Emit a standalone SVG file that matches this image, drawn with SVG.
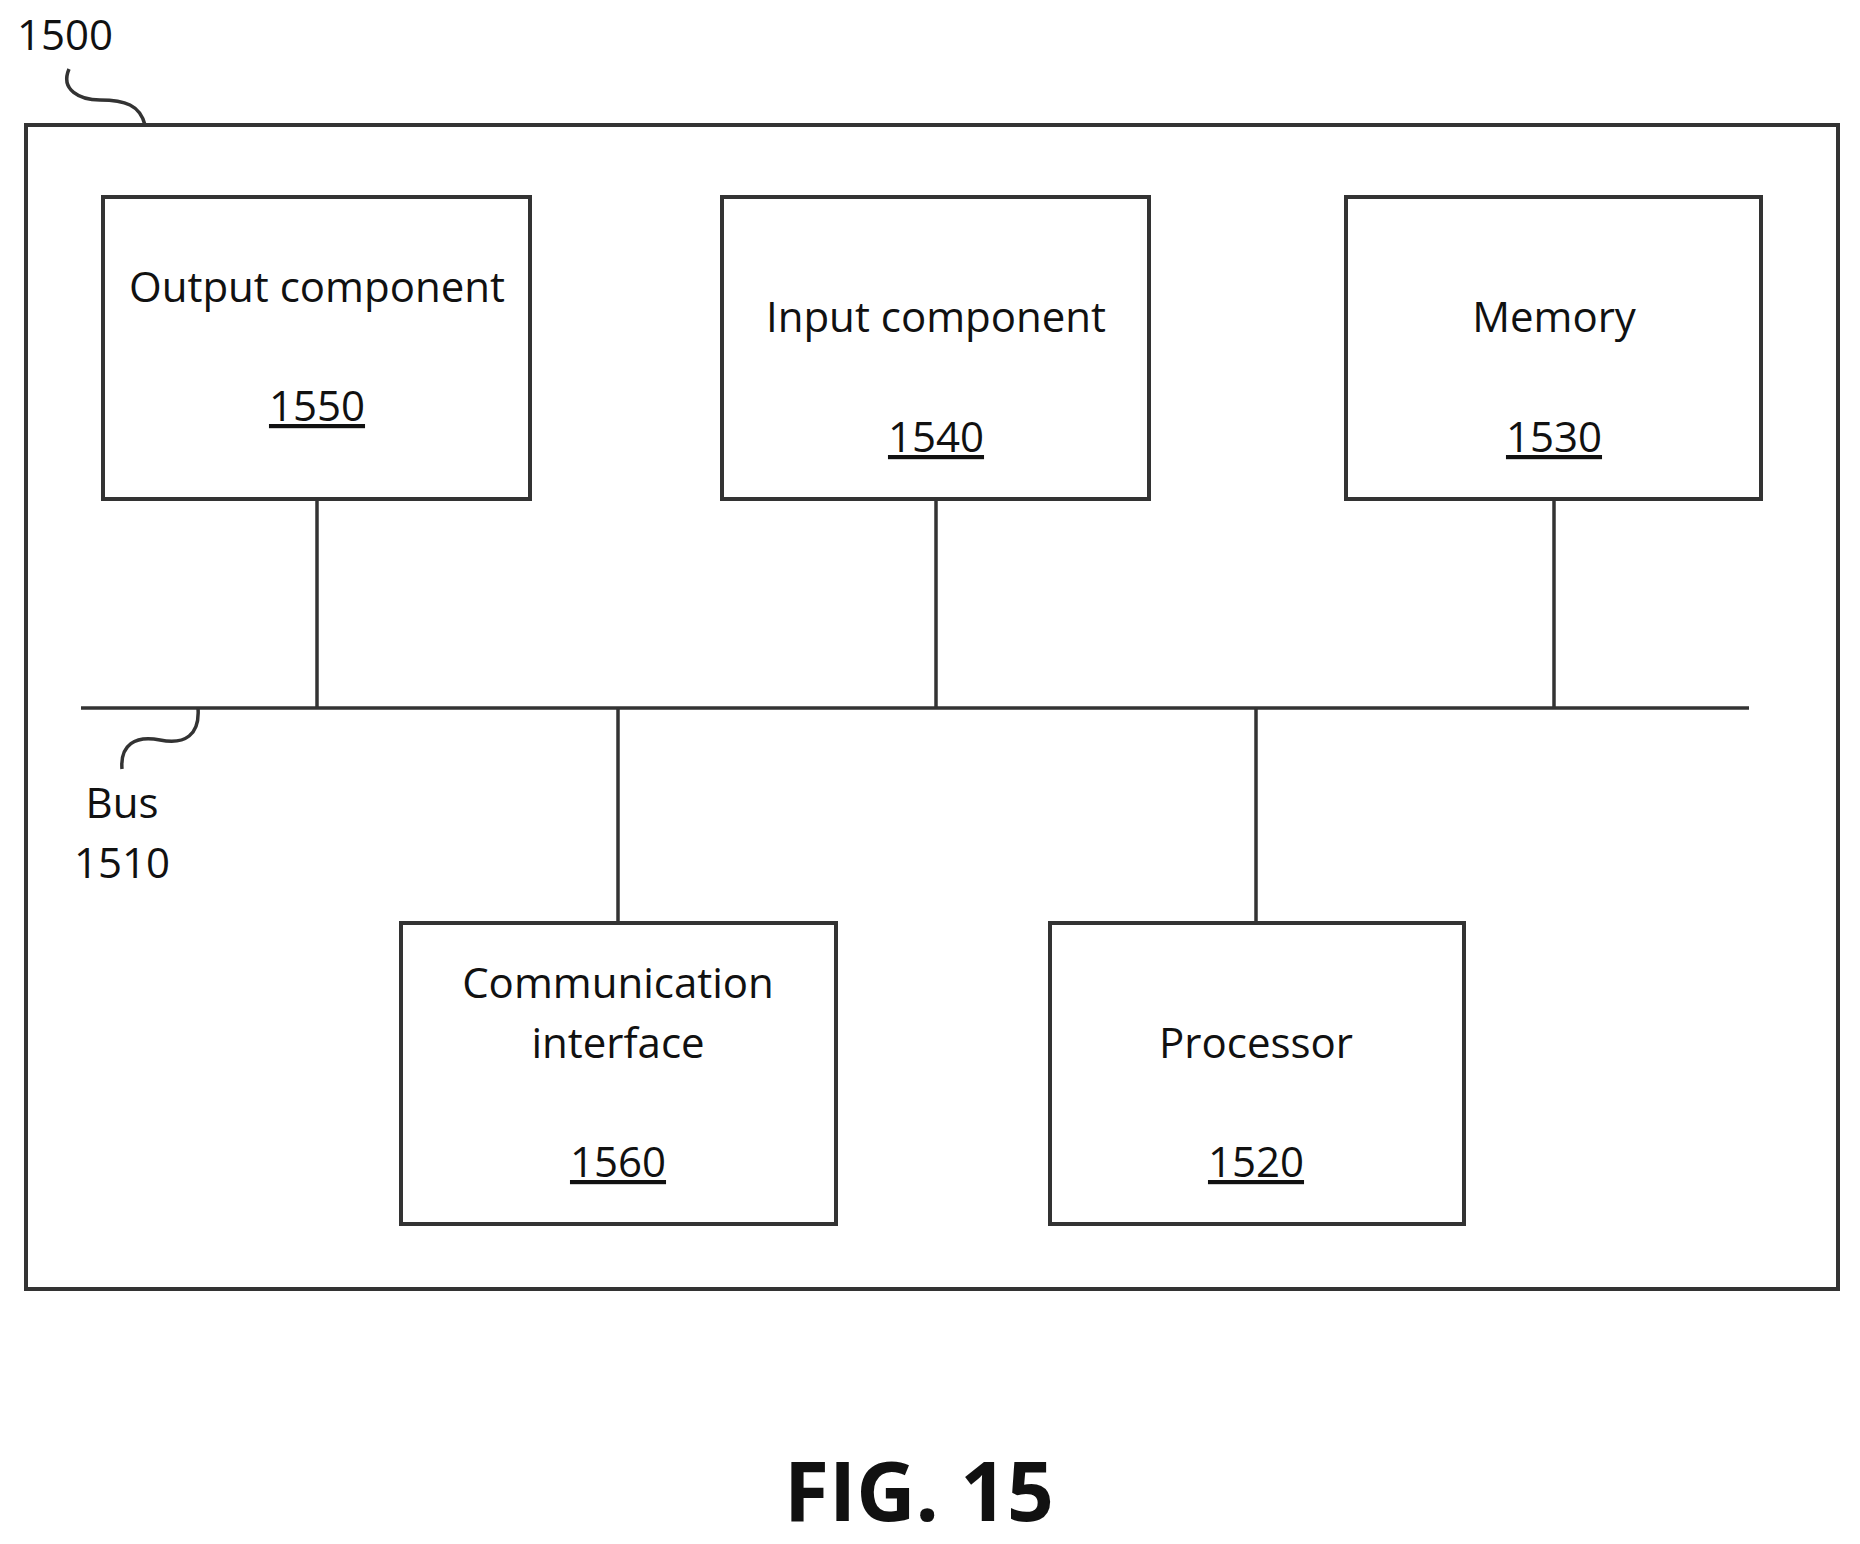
<svg xmlns="http://www.w3.org/2000/svg" width="1860" height="1544" viewBox="0 0 1860 1544">
<style>
.b{fill:none;stroke:#333;stroke-width:4}
.l{fill:none;stroke:#333;stroke-width:3.5}
text{font-family:"Open Sans","Liberation Sans",sans-serif;font-size:42px;fill:#111;text-anchor:middle}
.u{text-decoration:underline}
</style>
<rect width="1860" height="1544" fill="#fff"/>
<g id="system"><rect class="b" x="26" y="125" width="1812" height="1164"/>
<text x="65" y="50">1500</text>
<path class="l" d="M69,69 C60,90 80,100 100,100 C125,100 140,105 145,125"/></g>
<g id="connectors">
<line class="l" x1="81" y1="708" x2="1749" y2="708"/>
<line class="l" x1="317" y1="499" x2="317" y2="708"/>
<line class="l" x1="936" y1="499" x2="936" y2="708"/>
<line class="l" x1="1554" y1="499" x2="1554" y2="708"/>
<line class="l" x1="618" y1="708" x2="618" y2="923"/>
<line class="l" x1="1256" y1="708" x2="1256" y2="923"/>
<path class="l" d="M198,708 C200,735 185,745 160,740 C135,735 120,745 122,769"/>
</g>
<g id="bus"><text x="122" y="818">Bus</text><text x="122" y="878">1510</text></g>
<g id="n1550"><rect class="b" x="103" y="197" width="427" height="302"/><text x="317" y="302">Output component</text><text class="u" x="317" y="421">1550</text></g>
<g id="n1540"><rect class="b" x="722" y="197" width="427" height="302"/><text x="936" y="332">Input component</text><text class="u" x="936" y="452">1540</text></g>
<g id="n1530"><rect class="b" x="1346" y="197" width="415" height="302"/><text x="1554" y="332">Memory</text><text class="u" x="1554" y="452">1530</text></g>
<g id="n1560"><rect class="b" x="401" y="923" width="435" height="301"/><text x="618" y="998">Communication</text><text x="618" y="1058">interface</text><text class="u" x="618" y="1177">1560</text></g>
<g id="n1520"><rect class="b" x="1050" y="923" width="414" height="301"/><text x="1256" y="1058">Processor</text><text class="u" x="1256" y="1177">1520</text></g>
<text x="919" y="1521" style="font-size:82px;font-weight:bold">FIG. 15</text>
</svg>
